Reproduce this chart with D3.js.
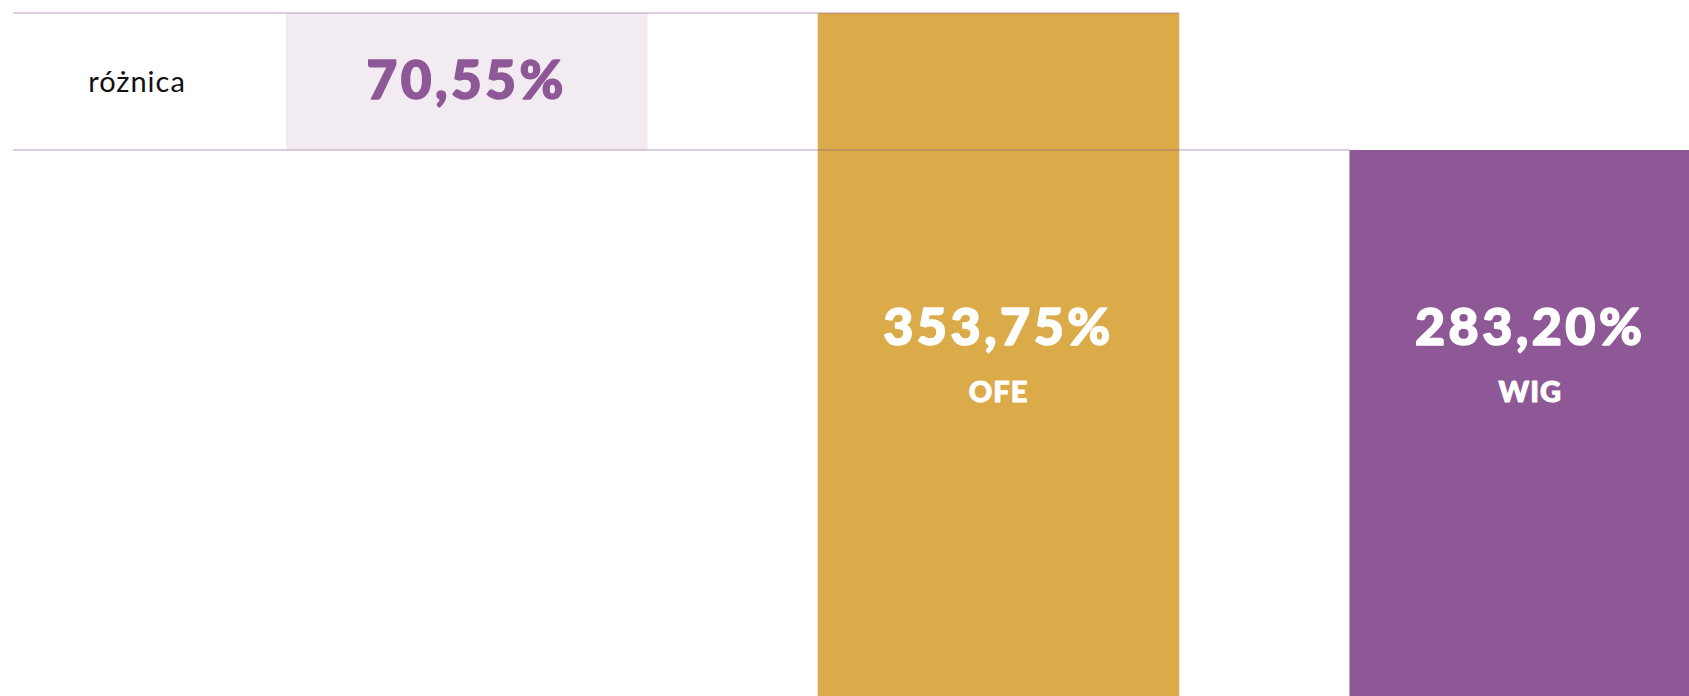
<!DOCTYPE html>
<html>
<head>
<meta charset="utf-8">
<script src="https://cdn.jsdelivr.net/npm/d3@7"></script>
<style>
  body { margin: 0; background: #fff; }
  svg { display: block; }
</style>
</head>
<body>
<svg id="chart"></svg>
<script>
const categories = ["OFE", "WIG"];
const values = [353.75, 283.2];
const colors = ["#dbab4a", "#8e5896"];
const diffLabel = "różnica";
const columns = [diffLabel, ...categories];

const width = 1689;
const height = 696;

const svg = d3.select("#chart").attr("width", width).attr("height", height);

const pl = d3.formatLocale({ decimal: ",", thousands: " ", grouping: [3], currency: ["", " zł"] });
const fmt = (d) => pl.format(".2f")(d) + "%";

const x = d3.scaleBand().domain(columns).range([286, 1711]).paddingInner(0.32);
const y = d3.scaleLinear().domain([0, d3.max(values)]).range([700, 13]);

const hi = d3.max(values);
const lo = d3.min(values);
const diff = hi - lo;

// difference band
svg.append("rect")
  .attr("x", x(diffLabel))
  .attr("y", y(hi))
  .attr("width", x.bandwidth())
  .attr("height", y(lo) - y(hi))
  .attr("fill", "#f2ecf2");

// bars
svg.selectAll("rect.bar")
  .data(categories)
  .join("rect")
  .attr("class", "bar")
  .attr("x", (d) => x(d))
  .attr("y", (d, i) => y(values[i]))
  .attr("width", x.bandwidth())
  .attr("height", (d, i) => y(0) - y(values[i]))
  .attr("fill", (d, i) => colors[i]);

// guide lines
svg.append("line")
  .attr("x1", 13).attr("x2", x("OFE") + x.bandwidth())
  .attr("y1", y(hi)).attr("y2", y(hi))
  .attr("stroke", "#8e5896").attr("stroke-opacity", 0.3).attr("stroke-width", 2);

svg.append("line")
  .attr("x1", 13).attr("x2", x("WIG"))
  .attr("y1", y(lo)).attr("y2", y(lo))
  .attr("stroke", "#8e5896").attr("stroke-opacity", 0.4).attr("stroke-width", 1.5);

// difference texts
svg.append("text")
  .attr("x", 137)
  .attr("y", 92)
  .attr("text-anchor", "middle")
  .style("font-family", "Lato, sans-serif")
  .style("font-size", "29px")
  .style("letter-spacing", "1px")
  .attr("fill", "#111")
  .text(diffLabel);

svg.append("text")
  .attr("x", x(diffLabel) + x.bandwidth() / 2)
  .attr("y", 99)
  .attr("text-anchor", "middle")
  .style("font-family", "Lato, sans-serif")
  .style("font-size", "53px")
  .style("font-weight", "900")
  .style("letter-spacing", "3.5px")
  .attr("fill", "#8e5896")
  .attr("stroke", "#8e5896")
  .attr("stroke-width", 1.6)
  .attr("stroke-linejoin", "round")
  .text(fmt(diff));

// bar labels
svg.selectAll("text.val")
  .data(categories)
  .join("text")
  .attr("class", "val")
  .attr("x", (d) => x(d) + x.bandwidth() / 2)
  .attr("y", 345)
  .attr("text-anchor", "middle")
  .style("font-family", "Lato, sans-serif")
  .style("font-size", "52px")
  .style("font-weight", "900")
  .style("letter-spacing", "3.5px")
  .attr("fill", "#fff")
  .attr("stroke", "#fff")
  .attr("stroke-width", 1.6)
  .attr("stroke-linejoin", "round")
  .text((d, i) => fmt(values[i]));

svg.selectAll("text.cat")
  .data(categories)
  .join("text")
  .attr("class", "cat")
  .attr("x", (d) => x(d) + x.bandwidth() / 2)
  .attr("y", 402)
  .attr("text-anchor", "middle")
  .style("font-family", "Lato, sans-serif")
  .style("font-size", "29px")
  .style("font-weight", "900")
  .style("letter-spacing", "1px")
  .attr("fill", "#fff")
  .attr("stroke", "#fff")
  .attr("stroke-width", 1)
  .attr("stroke-linejoin", "round")
  .text((d) => d);
</script>
</body>
</html>
